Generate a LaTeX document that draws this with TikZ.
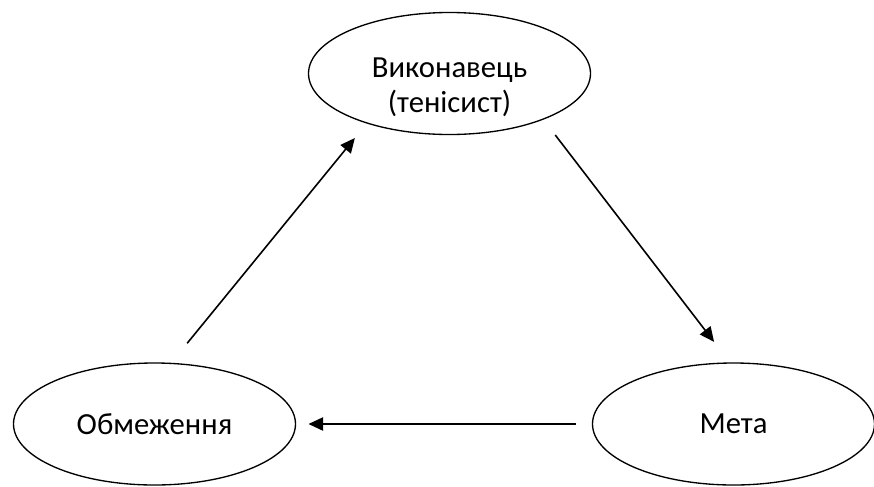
\documentclass[tikz,border=0pt]{standalone}
\usepackage{fontspec}
\setmainfont{Carlito}
\usepackage{tikz}
\usetikzlibrary{arrows.meta,positioning,shapes.geometric}

\begin{document}
\begin{tikzpicture}[
    x=0.75pt, y=-0.75pt,
    oval/.style={ellipse, draw, line width=1pt, minimum width=211.5pt, minimum height=91.5pt, inner sep=0pt, outer sep=0pt, align=center, font=\fontsize{23}{26}\selectfont},
    arrow/.style={-{Triangle[length=11pt, width=10pt]}, line width=1.2pt}
]
    \useasboundingbox (0,0) rectangle (874,486);

    % Nodes
    \node[oval] (vykonavets) at (449.5,73.5) {\raisebox{-11pt}[\height][\depth]{\begin{tabular}{@{}c@{}}Виконавець\\(тенісист)\end{tabular}}};
    \node[oval] (obmezhennia) at (154.5,424) {Обмеження};
    \node[oval, right=222.75pt of obmezhennia] (meta) {Мета};

    % Arrows
    \draw[arrow, shorten <=19.5pt, shorten >=14.5pt] (obmezhennia.75) -- (vykonavets.211);
    \draw[arrow, shorten <=15pt, shorten >=20pt] (vykonavets.334) -- (meta.93.5);
    \draw[arrow, shorten <=12.75pt, shorten >=9.75pt] (meta.west) -- (obmezhennia.east);
\end{tikzpicture}
\end{document}
